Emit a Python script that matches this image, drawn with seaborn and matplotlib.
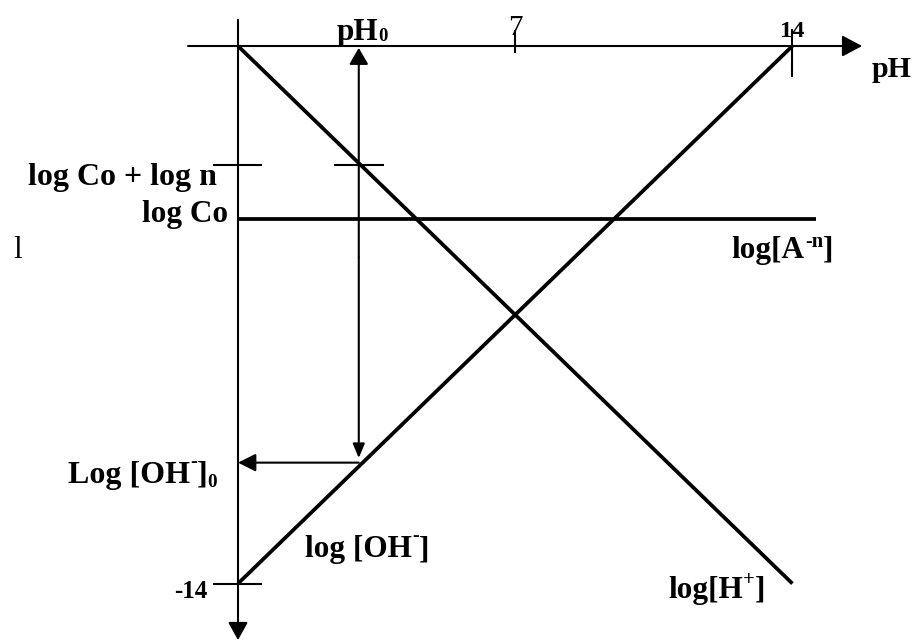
import matplotlib
matplotlib.use("Agg")
import matplotlib.pyplot as plt
import seaborn as sns
import pandas as pd

# pH axis end points and the log-concentration lines of the diagram
ph_ends = [0, 14]
log_h = [0, -14]           # log[H+] = -pH
log_oh = [-14, 0]          # log[OH-] = pH - 14
ph_a_ends = [0, 14.6]
log_co = -4.5              # log Co
log_co_n = -3.1            # log Co + log n
ph0 = 3.05                 # pH0 where log[H+] meets log Co + log n
log_oh0 = -10.85           # log[OH-]0 read on the OH- line at pH0
x_ticks = [7, 14]
x_tick_labels = ["7", "14"]
y_tick = -14
y_tick_label = "-14"

SERIF = "Liberation Serif"
FS = 22.5

sns.set_theme(style="white")
plt.rcParams["font.family"] = [SERIF, "DejaVu Serif"]
plt.rcParams["text.color"] = "black"

fig = plt.figure(figsize=(9.16, 6.41), dpi=100)
ax = fig.add_axes([0, 0, 1, 1])
ax.set_xlim(-238 / 39.6, (916 - 238) / 39.6)
ax.set_ylim(-(641 - 46) / 38.4, 46 / 38.4)
ax.axis("off")

lw_main = 2.7
lw_thin = 1.5

# concentration lines
h_df = pd.DataFrame({"pH": ph_ends, "log": log_h})
oh_df = pd.DataFrame({"pH": ph_ends, "log": log_oh})
a_df = pd.DataFrame({"pH": ph_a_ends, "log": [log_co, log_co]})
for df in (h_df, oh_df, a_df):
    sns.lineplot(data=df, x="pH", y="log", color="black", lw=lw_main,
                 solid_capstyle="butt", ax=ax, legend=False)


def arrow(x0, y0, x1, y1, hl, hw):
    ax.annotate("", xy=(x1, y1), xytext=(x0, y0),
                arrowprops=dict(arrowstyle=f"-|>,head_length={hl},head_width={hw}",
                                mutation_scale=10, lw=lw_thin, color="black",
                                shrinkA=0, shrinkB=0))


# axes with arrow heads
arrow(-1.26, 0, 15.76, 0, 1.22, 0.65)
arrow(0, 0.68, 0, -15.47, 1.08, 0.6)

# pH0 construction
arrow(ph0, -5.5, ph0, -0.05, 1.0, 0.58)
arrow(ph0, -5.5, ph0, -10.73, 0.86, 0.36)
arrow(ph0, log_oh0, 0, log_oh0, 1.08, 0.54)

# tick marks
tick_kw = dict(color="black", lw=lw_thin, solid_capstyle="butt")
ax.plot([x_ticks[0], x_ticks[0]], [0.42, -0.18], **tick_kw)
ax.plot([x_ticks[1], x_ticks[1]], [0.44, -0.81], **tick_kw)
ax.plot([-0.63, 0.61], [y_tick, y_tick], **tick_kw)
ax.plot([-0.63, 0.61], [log_co_n, log_co_n], **tick_kw)
ax.plot([ph0 - 0.63, ph0 + 0.63], [log_co_n, log_co_n], **tick_kw)

renderer = fig.canvas.get_renderer()


def rich(x, y, pieces, size=FS, weight="bold"):
    """Write text pieces left to right from (x, y) on a common baseline.
    Each piece is (text, scale, raise) with raise as a fraction of size."""
    dx = 0.0
    for text, scale, rise in pieces:
        t = ax.annotate(text, xy=(x, y), xycoords="data",
                        xytext=(dx, rise * size), textcoords="offset points",
                        fontsize=size * scale, fontweight=weight, color="black",
                        ha="left", va="baseline", family=SERIF)
        dx += t.get_window_extent(renderer).width * 72 / fig.dpi


# tick labels
ax.text(x_ticks[0], 0.29, x_tick_labels[0], ha="center", va="baseline",
        fontsize=21, family=SERIF, color="black")
ax.text(x_ticks[1], 0.23, x_tick_labels[1], ha="center", va="baseline",
        fontsize=17.5, fontweight="bold", family=SERIF, color="black")
ax.text(-0.78, -14.375, y_tick_label, ha="right", va="baseline",
        fontsize=18, fontweight="bold", family=SERIF, color="black")

# labels
rich(16.01, -0.81, [("pH", 1, 0)], size=21.6)
rich(2.5, 0.156, [("pH", 1, 0), ("0", 0.6, -0.02)])
rich(-5.30, -3.62, [("log Co + log n", 1, 0)], size=23)
rich(-2.42, -4.58, [("log Co", 1, 0)])
rich(-5.68, -5.52, [("l", 1, 0)], weight="normal")
rich(12.47, -5.52, [("log[A", 1, 0), ("-n", 0.65, 0.34), ("]", 1, 0)])
rich(-4.29, -11.38, [("Log [OH", 1, 0), ("-", 0.65, 0.5), ("]", 1, 0), ("0", 0.6, -0.13)], size=23)
rich(1.69, -13.31, [("log [OH", 1, 0), ("-", 0.65, 0.5), ("]", 1, 0)])
rich(10.86, -14.375, [("log[H", 1, 0), ("+", 0.65, 0.42), ("]", 1, 0)])

fig.savefig("out.png", dpi=100, facecolor="white")
